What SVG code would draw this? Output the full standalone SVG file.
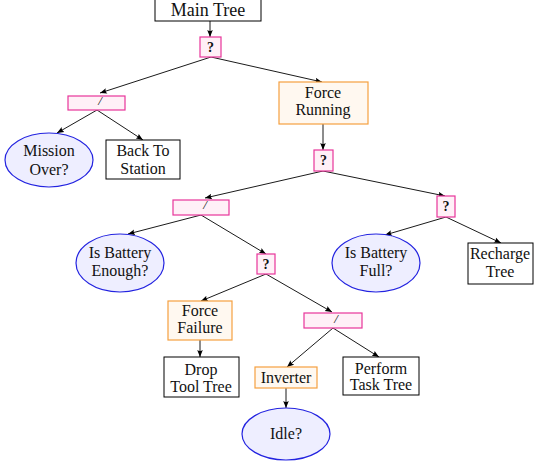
<svg xmlns="http://www.w3.org/2000/svg" width="535" height="461" viewBox="0 0 535 461">
<defs>
<marker id="ah" viewBox="0 0 10 10" refX="10" refY="5" markerWidth="7" markerHeight="7" orient="auto" markerUnits="userSpaceOnUse">
<path d="M0,1 L10,5 L0,9 Q3,5 0,1 Z" fill="#000"/>
</marker>
<style>
text{font-family:"Liberation Serif","Times New Roman",serif;font-size:16px;fill:#111;text-anchor:middle}
.big{font-size:18px}
.q{font-weight:bold;font-size:14px}
.tick{font-size:13px;font-style:italic}
.plain{fill:#fff;stroke:#000;stroke-width:1}
.sel{fill:#fff0f7;stroke:#e8359a;stroke-width:1.2}
.dec{fill:#fff8f0;stroke:#f5a040;stroke-width:1.2}
.cond{fill:#eeeeff;stroke:#2323e0;stroke-width:1.2}
.e{stroke:#000;stroke-width:0.9;fill:none;marker-end:url(#ah)}
</style>
</defs>
<g id="connectors">
<line class="e" x1="210" y1="21" x2="210" y2="37"/>
<line class="e" x1="211" y1="57" x2="100" y2="93"/>
<line class="e" x1="211" y1="57" x2="322" y2="82"/>
<line class="e" x1="97" y1="110" x2="57" y2="133"/>
<line class="e" x1="97" y1="110" x2="143" y2="140"/>
<line class="e" x1="323" y1="124" x2="323" y2="150"/>
<line class="e" x1="323" y1="171" x2="205" y2="198"/>
<line class="e" x1="323" y1="171" x2="445" y2="196"/>
<line class="e" x1="201" y1="215" x2="128" y2="234"/>
<line class="e" x1="201" y1="215" x2="266" y2="254"/>
<line class="e" x1="446" y1="217" x2="385" y2="235"/>
<line class="e" x1="446" y1="217" x2="501" y2="243"/>
<line class="e" x1="266" y1="274" x2="201" y2="301"/>
<line class="e" x1="266" y1="274" x2="332" y2="312"/>
<line class="e" x1="200" y1="340" x2="200" y2="357"/>
<line class="e" x1="333" y1="328" x2="287" y2="367"/>
<line class="e" x1="333" y1="328" x2="379" y2="357"/>
<line class="e" x1="286" y1="388" x2="286" y2="408"/>
</g>
<g id="main-tree">
<rect class="plain" x="155" y="-1" width="106" height="22"/>
<text class="big" x="208" y="16">Main Tree</text>
</g>
<g id="sel1">
<rect class="sel" x="200" y="37" width="21" height="20"/>
<text class="q" x="210.5" y="52">?</text>
</g>
<g id="seq1">
<rect class="sel" x="68" y="96" width="57" height="14"/>
<text class="tick" x="100" y="105">/</text>
</g>
<g id="mission-over">
<ellipse class="cond" cx="49" cy="160" rx="44" ry="27"/>
<text x="49" y="156">Mission</text>
<text x="49" y="175">Over?</text>
</g>
<g id="back-to-station">
<rect class="plain" x="106" y="140" width="74" height="39"/>
<text x="143" y="156">Back To</text>
<text x="143" y="174">Station</text>
</g>
<g id="force-running">
<rect class="dec" x="279" y="82" width="89" height="42"/>
<text x="323" y="98">Force</text>
<text x="323" y="115">Running</text>
</g>
<g id="sel2">
<rect class="sel" x="314" y="150" width="19" height="21"/>
<text class="q" x="323.5" y="165">?</text>
</g>
<g id="seq2">
<rect class="sel" x="173" y="200" width="56" height="15"/>
<text class="tick" x="205" y="209">/</text>
</g>
<g id="sel3">
<rect class="sel" x="437" y="196" width="18" height="21"/>
<text class="q" x="446" y="211">?</text>
</g>
<g id="battery-enough">
<ellipse class="cond" cx="120" cy="263" rx="44" ry="29"/>
<text x="120" y="258">Is Battery</text>
<text x="120" y="276">Enough?</text>
</g>
<g id="sel4">
<rect class="sel" x="257" y="254" width="18" height="20"/>
<text class="q" x="266" y="269">?</text>
</g>
<g id="battery-full">
<ellipse class="cond" cx="376" cy="263" rx="44" ry="29"/>
<text x="376" y="258">Is Battery</text>
<text x="376" y="276">Full?</text>
</g>
<g id="recharge-tree">
<rect class="plain" x="468" y="243" width="65" height="41"/>
<text x="500" y="259">Recharge</text>
<text x="500" y="277">Tree</text>
</g>
<g id="force-failure">
<rect class="dec" x="168" y="301" width="64" height="39"/>
<text x="200" y="316">Force</text>
<text x="200" y="333">Failure</text>
</g>
<g id="seq3">
<rect class="sel" x="304" y="313" width="58" height="15"/>
<text class="tick" x="336" y="323">/</text>
</g>
<g id="drop-tool-tree">
<rect class="plain" x="164" y="357" width="75" height="40"/>
<text x="201" y="375">Drop</text>
<text x="201" y="392">Tool Tree</text>
</g>
<g id="inverter">
<rect class="dec" x="255" y="367" width="62" height="21"/>
<text x="286" y="383">Inverter</text>
</g>
<g id="perform-task-tree">
<rect class="plain" x="343" y="357" width="76" height="38"/>
<text x="381" y="374">Perform</text>
<text x="381" y="390">Task Tree</text>
</g>
<g id="idle">
<ellipse class="cond" cx="286" cy="434" rx="44" ry="26"/>
<text x="286" y="439">Idle?</text>
</g>
</svg>
